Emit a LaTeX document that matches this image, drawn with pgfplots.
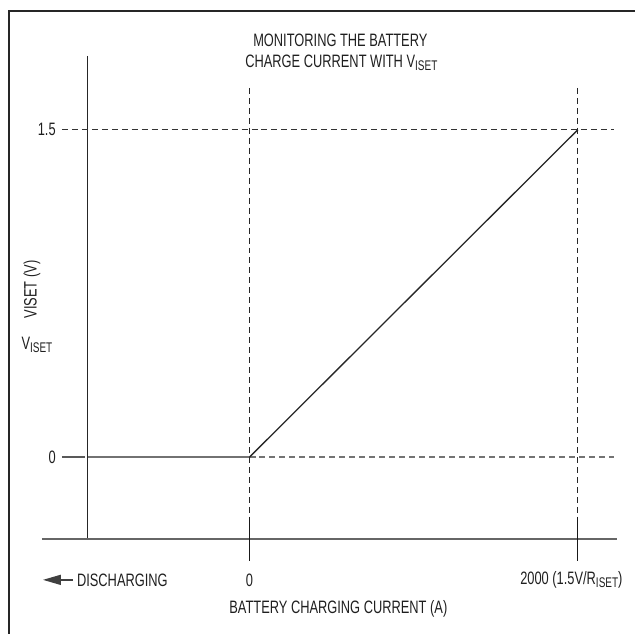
\documentclass[border=0pt]{standalone}
\usepackage{pgfplots}
\pgfplotsset{compat=1.18}
\usepackage{fontspec}
\setmainfont[FakeStretch=0.715]{Liberation Sans}
\usetikzlibrary{arrows.meta}
\newcommand{\sub}[1]{\raisebox{-0.3ex}{\fontsize{14}{14}\selectfont #1}}
\tikzset{lbl/.style={font=\fontsize{18}{20}\selectfont, inner sep=0pt, text=black!88}}
\begin{document}
\begin{tikzpicture}
\begin{axis}[scale only axis, width=636pt, height=635pt, hide axis,
  xmin=-1519.8, xmax=2346.5, ymin=-0.80945, ymax=2.09451, clip=false]
% bounding box
\addplot[draw=none, forget plot] coordinates {(-1519.8,-0.80945) (2346.5,2.09451)};
% frame (top and left)
\addplot[line width=2.5pt, color=black!85, forget plot] coordinates {(2346.5,2.04421) (-1465.05,2.04421) (-1465.05,-0.80945)};
% vertical axis
\addplot[line width=1.3pt, color=black!85, forget plot] coordinates {(-984.80,1.83841) (-984.80,-0.375)};
% horizontal axis
\addplot[line width=1.5pt, color=black!60, forget plot] coordinates {(-1264.44,-0.375) (2237.08,-0.375)};
% y tick at 0
\addplot[line width=1.3pt, color=black!65, forget plot] coordinates {(-1142.86,0) (-1003.04,0)};
% dashed guides
\addplot[line width=1.2pt, color=black!80, dash pattern=on 6pt off 4pt, forget plot] coordinates {(-1142.86,1.5) (2218.85,1.5)};
\addplot[line width=1.2pt, color=black!55, dash pattern=on 6pt off 4pt, forget plot] coordinates {(0,0) (2218.85,0)};
\addplot[line width=1.2pt, color=black!85, dash pattern=on 6pt off 4pt, forget plot] coordinates {(0,1.69207) (0,-0.27439)};
\addplot[line width=1.2pt, color=black!85, dash pattern=on 6pt off 4pt, forget plot] coordinates {(2000,1.69207) (2000,-0.27439)};
% x ticks
\addplot[line width=1.2pt, color=black!90, forget plot] coordinates {(0,-0.27439) (0,-0.47561)};
\addplot[line width=1.2pt, color=black!90, forget plot] coordinates {(2000,-0.27439) (2000,-0.47561)};
% data curve
\addplot[line width=1.3pt, color=black!85] coordinates {(-984.80,0) (0,0) (2000,1.5)};
% discharging arrow
\addplot[line width=1.5pt, color=black!75, -{Triangle[length=18pt,width=10pt]}, forget plot] coordinates {(-1076.0,-0.5625) (-1258.4,-0.5625)};
% texts
\node[lbl] at (axis cs:553.19,1.91159) {MONITORING THE BATTERY};
\node[lbl] at (axis cs:559.27,1.80640) {CHARGE CURRENT WITH V\sub{ISET}};
\node[lbl, anchor=east] at (axis cs:-1179.33,1.5) {1.5};
\node[lbl, anchor=east] at (axis cs:-1179.33,0) {0};
\node[lbl] at (axis cs:0,-0.5625) {0};
\node[lbl] at (axis cs:1960.5,-0.5625) {2000 (1.5V/R\sub{ISET})};
\node[lbl, anchor=west] at (axis cs:-1051.67,-0.5625) {DISCHARGING};
\node[lbl] at (axis cs:541.03,-0.69512) {BATTERY CHARGING CURRENT (A)};
\node[lbl, rotate=90] at (axis cs:-1325.23,0.76829) {VISET (V)};
\node[lbl] at (axis cs:-1294.83,0.51220) {V\sub{ISET}};
\end{axis}
\end{tikzpicture}
\end{document}
